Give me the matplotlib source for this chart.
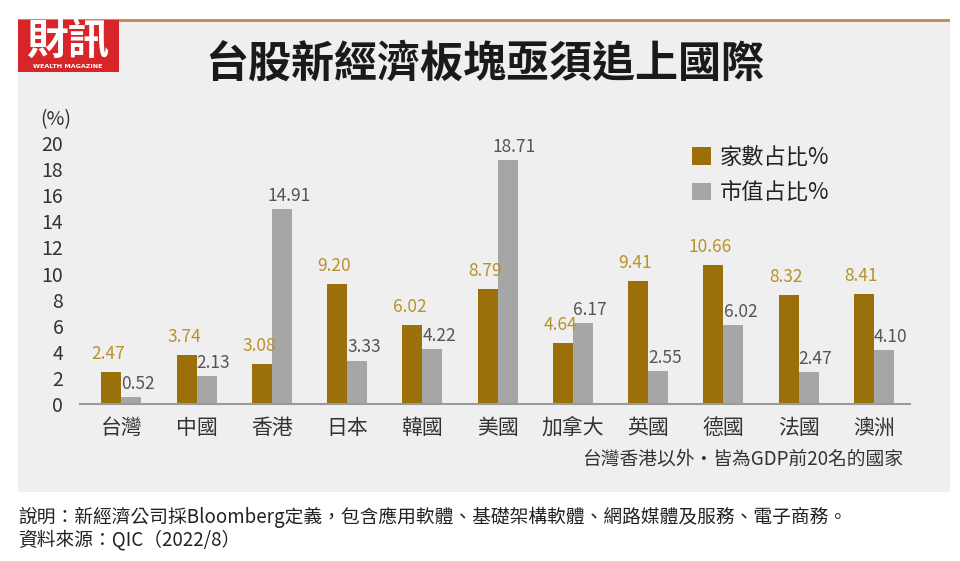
import numpy as np
import matplotlib
matplotlib.use("Agg")
import matplotlib.pyplot as plt
from matplotlib.patches import Rectangle, Patch

plt.rcParams["font.family"] = ["Noto Sans CJK TC", "DejaVu Sans"]

# ── Data ───────────────────────────────────────────────────────────────────────
countries = ["台灣", "中國", "香港", "日本", "韓國", "美國", "加拿大", "英國", "德國", "法國", "澳洲"]
count_share = [2.47, 3.74, 3.08, 9.20, 6.02, 8.79, 4.64, 9.41, 10.66, 8.32, 8.41]
mcap_share = [0.52, 2.13, 14.91, 3.33, 4.22, 18.71, 6.17, 2.55, 6.02, 2.47, 4.10]
yticks = [0, 2, 4, 6, 8, 10, 12, 14, 16, 18, 20]

GOLD = "#9b6f0a"
GOLD_TXT = "#b8912c"
GRAY = "#a6a6a6"
GRAY_TXT = "#555555"
PANEL = "#efefef"

fig = plt.figure(figsize=(9.6, 5.61), dpi=100)
fig.patch.set_facecolor("white")

# grey panel + top rule + logo
fig.patches.append(Rectangle((18 / 960, 1 - 492 / 561), 932 / 960, 472 / 561,
                             transform=fig.transFigure, facecolor=PANEL, edgecolor="none", zorder=-2))
fig.patches.append(Rectangle((18 / 960, 1 - 22 / 561), 932 / 960, 3 / 561,
                             transform=fig.transFigure, facecolor="#bf8f5a", edgecolor="none", zorder=-1))
fig.patches.append(Rectangle((18 / 960, 1 - 72 / 561), 101 / 960, 52 / 561,
                             transform=fig.transFigure, facecolor="#d7252a", edgecolor="none", zorder=-1))
fig.text(68 / 960, 1 - 42 / 561, "財訊", color="white", fontsize=30, fontweight="bold",
         ha="center", va="center", zorder=3)
fig.text(68 / 960, 1 - 66 / 561, "WEALTH MAGAZINE", color="white", fontsize=4.6, fontweight="bold",
         ha="center", va="center", family="DejaVu Sans", zorder=3)

fig.text(485 / 960, 1 - 64 / 561, "台股新經濟板塊亟須追上國際", fontsize=31, fontweight="bold",
         color="#1a1a1a", ha="center", va="center")

# ── Chart ──────────────────────────────────────────────────────────────────────
ax = fig.add_axes([80 / 960, 157 / 561, 830 / 960, 261 / 561])
ax.set_zorder(5)
ax.set_facecolor("none")
x = np.arange(len(countries))
w = 0.266
ax.bar(x - w / 2, count_share, width=w, color=GOLD, zorder=2)
ax.bar(x + w / 2, mcap_share, width=w, color=GRAY, zorder=2)

for xi, v in zip(x, count_share):
    ax.annotate(f"{v:.2f}", (xi - w / 2, v), xytext=(-2, 6.5), textcoords="offset points",
                ha="center", va="bottom", color=GOLD_TXT, fontsize=12.5, annotation_clip=False)
for xi, v in zip(x, mcap_share):
    ax.annotate(f"{v:.2f}", (xi + w / 2, v), xytext=(5, 3), textcoords="offset points",
                ha="center", va="bottom", color=GRAY_TXT, fontsize=12.5, annotation_clip=False)

ax.set_xlim(-0.55, 10.48)
ax.set_ylim(0, 20)
ax.set_yticks(yticks)
ax.set_yticklabels([str(t) for t in yticks])
ax.set_xticks(x)
ax.set_xticklabels(countries, fontsize=15)
ax.tick_params(axis="both", length=0, colors="#333333")
ax.tick_params(axis="y", pad=12, labelsize=14)
ax.tick_params(axis="x", pad=9)
for s in ["top", "right", "left"]:
    ax.spines[s].set_visible(False)
ax.spines["bottom"].set_color("#9a9a9a")
ax.spines["bottom"].set_linewidth(1.5)

fig.text(56 / 960, 1 - 120 / 561, "(%)", fontsize=14, color="#333333", ha="center", va="center")

handles = [Patch(facecolor=GOLD, label="家數占比%"), Patch(facecolor=GRAY, label="市值占比%")]
fig.legend(handles=handles, loc="upper left", bbox_to_anchor=(672 / 960, 1 - 126 / 561),
           frameon=False, fontsize=16, handlelength=0.85, handleheight=0.85,
           handletextpad=0.4, labelspacing=0.55, labelcolor="#222222")

fig.text(903 / 960, 1 - 459 / 561, "台灣香港以外・皆為GDP前20名的國家", fontsize=13.5,
         color="#333333", ha="right", va="center")

fig.text(18 / 960, 1 - 517 / 561, "說明：新經濟公司採Bloomberg定義，包含應用軟體、基礎架構軟體、網路媒體及服務、電子商務。",
         fontsize=13.5, color="#222222", ha="left", va="center")
fig.text(18 / 960, 1 - 540 / 561, "資料來源：QIC（2022/8）", fontsize=13.5, color="#222222",
         ha="left", va="center")

fig.savefig("out.png", dpi=100, facecolor=fig.get_facecolor())
